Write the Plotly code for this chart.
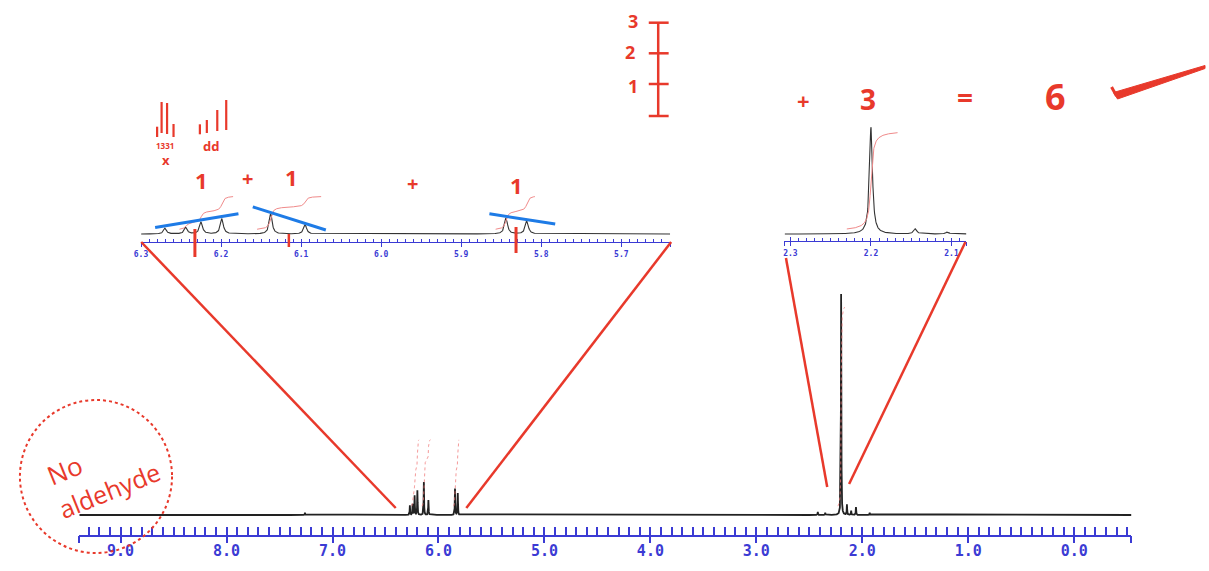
import numpy as np
import plotly.graph_objects as go

W, H = 1209, 571

def px(x):
    return x / W

def py(y):
    return 1 - y / H

# ---------------- data ----------------
peak_ppm = [7.26, 6.270, 6.244, 6.225, 6.199, 6.138, 6.095, 5.844, 5.818,
            2.42, 2.35, 2.200, 2.145, 2.105, 2.06, 1.93]
peak_int = [1.0, 4.3, 4.9, 8.8, 11.2, 14.9, 6.8, 11.9, 9.9,
            1.4, 1.0, 100.0, 4.7, 1.9, 3.6, 1.0]
peak_hwhm = 0.0022

# integral regions (start ppm, end ppm, number of H)
integ_start = [6.252, 6.155, 5.857, 2.230]
integ_end = [6.185, 6.075, 5.808, 2.167]
integ_nh = [1, 1, 1, 3]

main_range = [9.39, -0.54]
main_tickvals = [9.39, 9.0, 8.0, 7.0, 6.0, 5.0, 4.0, 3.0, 2.0, 1.0, 0.0, -0.54]
main_ticktext = ["", "9.0", "8.0", "7.0", "6.0", "5.0", "4.0", "3.0", "2.0", "1.0", "0.0", ""]

ins1_range = [6.3, 5.639]
ins1_tickvals = [6.3, 6.2, 6.1, 6.0, 5.9, 5.8, 5.7, 5.639]
ins1_ticktext = ["6.3", "6.2", "6.1", "6.0", "5.9", "5.8", "5.7", ""]

ins2_range = [2.3074, 2.0815]
ins2_tickvals = [2.3074, 2.3, 2.2, 2.1, 2.0815]
ins2_ticktext = ["", "2.3", "2.2", "2.1", ""]

# ---------------- derived curves ----------------
P = np.array(peak_ppm)
I = np.array(peak_int)


def spectrum(x):
    x = np.asarray(x)[:, None]
    return (I[None, :] * peak_hwhm ** 2 / ((x - P[None, :]) ** 2 + peak_hwhm ** 2)).sum(axis=1)


def integral(a, b, offset, height):
    x = np.linspace(a, b, 600)
    s = spectrum(x)
    c = np.concatenate([[0], np.cumsum((s[1:] + s[:-1]) / 2)])
    c = c / c[-1]
    return x, offset + height * c

BLUE = "#3b3bd4"
RED = "#e8392b"
BLUE2 = "#1e7be6"
PINK = "#f08a8a"
BLACK = "#222222"

fig = go.Figure()

# main spectrum
xm = np.arange(main_range[1], main_range[0], 0.0004)
fig.add_trace(go.Scatter(x=xm, y=spectrum(xm), mode="lines",
                         line=dict(color=BLACK, width=1.8), xaxis="x", yaxis="y",
                         hoverinfo="skip"))
for a, b, nh in zip(integ_start, integ_end, integ_nh):
    xi, yi = integral(a, b, 4, 30 * nh)
    fig.add_trace(go.Scatter(x=xi, y=yi, mode="lines",
                             line=dict(color="rgba(240,120,120,0.75)", width=1, dash="dot"),
                             xaxis="x", yaxis="y", hoverinfo="skip"))

# inset 1
x1 = np.arange(ins1_range[1], ins1_range[0], 0.0004)
fig.add_trace(go.Scatter(x=x1, y=spectrum(x1), mode="lines",
                         line=dict(color="#333333", width=1.1), xaxis="x3", yaxis="y2",
                         hoverinfo="skip"))
for a, b, nh in zip(integ_start[:3], integ_end[:3], integ_nh[:3]):
    xi, yi = integral(a, b, 3.5, 24 * nh)
    fig.add_trace(go.Scatter(x=xi, y=yi, mode="lines",
                             line=dict(color=PINK, width=1), xaxis="x3", yaxis="y2",
                             hoverinfo="skip"))

# inset 2
x2 = np.arange(ins2_range[1], ins2_range[0], 0.0004)
fig.add_trace(go.Scatter(x=x2, y=spectrum(x2), mode="lines",
                         line=dict(color="#333333", width=1.1), xaxis="x5", yaxis="y3",
                         hoverinfo="skip"))
xi, yi = integral(integ_start[3], integ_end[3], 4.7, 30 * integ_nh[3])
fig.add_trace(go.Scatter(x=xi, y=yi, mode="lines",
                         line=dict(color=PINK, width=1), xaxis="x5", yaxis="y3",
                         hoverinfo="skip"))

# invisible traces so the overlay axes are drawn
for xa_name, ya_name, rng in [("x2", "y", main_range), ("x7", "y", main_range),
                              ("x4", "y2", ins1_range), ("x6", "y3", ins2_range)]:
    fig.add_trace(go.Scatter(x=rng, y=[0, 0], mode="markers",
                             marker=dict(opacity=0, size=1), xaxis=xa_name, yaxis=ya_name,
                             hoverinfo="skip"))

tickfont_main = dict(family="DejaVu Sans Mono", size=15, color=BLUE, weight="bold")
tickfont_small = dict(family="DejaVu Sans Mono", size=8, color=BLUE, weight="bold")


def ruler(dom, rng, tv, tt, anchor, up, down, minor_len, minor_dt, font, lw, labels=True):
    a = dict(domain=dom, range=rng, anchor=anchor, tickmode="array", tickvals=tv,
             ticktext=["" for _ in tt], ticks="inside", ticklen=up, tickcolor=BLUE,
             tickwidth=lw, showline=True, linecolor=BLUE, linewidth=lw,
             showgrid=False, zeroline=False, showticklabels=False,
             minor=dict(ticks="inside", ticklen=minor_len, dtick=minor_dt, tick0=0,
                        tickcolor=BLUE, tickwidth=lw, showgrid=False))
    b = dict(domain=dom, range=rng, anchor=anchor, tickmode="array", tickvals=tv,
             ticktext=tt, ticks="outside", ticklen=down, tickcolor=BLUE, tickwidth=lw,
             showline=False, showgrid=False, zeroline=False, showticklabels=labels,
             tickfont=font, side="bottom")
    return a, b

xa, xb = ruler([px(72.7), px(1131)], main_range, main_tickvals, main_ticktext, "y",
               10, 7, 8, 0.1, tickfont_main, 1.6, labels=False)
xb["overlaying"] = "x"
# separate label axis for the main ruler (no tick marks)
xl = dict(domain=[px(72.7), px(1131)], range=main_range, anchor="y", overlaying="x",
          tickmode="array", tickvals=main_tickvals, ticktext=main_ticktext, ticks="",
          showline=False, showgrid=False, zeroline=False, showticklabels=True,
          tickfont=tickfont_main, side="bottom", ticklabelstandoff=5)
x3a, x3b = ruler([px(134.8), px(667)], ins1_range, ins1_tickvals, ins1_ticktext, "y2",
                 4, 4, 3, 0.01, tickfont_small, 1)
x3b["overlaying"] = "x3"
x5a, x5b = ruler([px(782), px(965)], ins2_range, ins2_tickvals, ins2_ticktext, "y3",
                 4, 4, 3, 0.01, tickfont_small, 1)
x5b["overlaying"] = "x5"

yhidden = dict(visible=False, showgrid=False, zeroline=False)

fig.update_layout(
    width=W, height=H, autosize=False,
    margin=dict(l=0, r=0, t=0, b=0),
    paper_bgcolor="white", plot_bgcolor="rgba(0,0,0,0)",
    showlegend=False,
    xaxis=xa, xaxis2=xb, xaxis3=x3a, xaxis4=x3b, xaxis5=x5a, xaxis6=x5b, xaxis7=xl,
    yaxis=dict(domain=[py(535), py(280)], range=[-9.05, 106.3], **yhidden),
    yaxis2=dict(domain=[py(242), py(170)], range=[-5.88, 47.06], **yhidden),
    yaxis3=dict(domain=[py(241), py(110)], range=[-6.54, 115.9], **yhidden),
)

shapes = []


def seg(x0, y0, x1, y1, color=RED, width=2.5):
    shapes.append(dict(type="line", xref="paper", yref="paper",
                       x0=px(x0), y0=py(y0), x1=px(x1), y1=py(y1),
                       line=dict(color=color, width=width)))

# connectors to the insets
seg(135, 242, 391, 508)
seg(668, 242, 462, 508)
seg(783.5, 258, 825, 487)
seg(964, 242, 847, 484)

# marks under inset 1
seg(189, 229, 189, 257, width=3)
seg(283.5, 234, 283.5, 247, width=2.5)
seg(512, 227, 512, 253, width=3)

# blue roofing lines
seg(149, 227.6, 232.8, 213.8, color=BLUE2, width=3)
seg(247.2, 206.9, 320.7, 230, color=BLUE2, width=3)
seg(485.2, 213.8, 551.4, 224.1, color=BLUE2, width=3)

# integral scale bar
seg(655, 22.7, 655, 116, width=2.5)
for yy in [22.7, 53.3, 84, 116]:
    seg(645.5, yy, 665.5, yy, width=2.5)

# multiplet sketches
for xx, y0, y1 in [(151, 126.7, 137), (155.5, 102, 133), (161, 103, 134), (167.5, 124, 137)]:
    seg(xx, y0, xx, y1, width=2.2)
for xx, y0, y1 in [(194, 124.3, 134.3), (201, 120, 133), (211.5, 110, 131), (220.5, 100, 130)]:
    seg(xx, y0, xx, y1, width=2.2)

# tick mark (check)
seg(1111, 87, 1116, 96, width=3)
path = "M {} {} L {} {} L {} {} L {} {} Z".format(
    px(1113), py(92.5), px(1205), py(65.5), px(1205), py(68.5), px(1117), py(99))
shapes.append(dict(type="path", xref="paper", yref="paper", path=path,
                   fillcolor=RED, line=dict(color=RED, width=1)))

# dotted circle
shapes.append(dict(type="circle", xref="paper", yref="paper",
                   x0=px(13), x1=px(166), y0=py(553), y1=py(400),
                   line=dict(color=RED, width=2, dash="dot")))

fig.update_layout(shapes=shapes)

annots = []


def txt(s, x, y, size, angle=0, color=RED, family="Open Sans", weight="bold"):
    annots.append(dict(text=s, x=px(x), y=py(y), xref="paper", yref="paper",
                       showarrow=False, xanchor="center", yanchor="middle",
                       textangle=angle,
                       font=dict(family=family, size=size, color=color, weight=weight)))

txt("1", 196, 180, 22)
txt("+", 242, 178, 20)
txt("1", 286, 177, 22)
txt("+", 408, 183, 20)
txt("1", 512, 185, 22)

txt("3", 630, 21, 18)
txt("2", 627, 52, 18)
txt("1", 630, 86, 18)

txt("+", 801, 100, 22)
txt("3", 866, 99, 28)
txt("=", 964, 97, 28)
txt("6", 1055, 97, 36)

txt("1331", 159, 145, 8)
txt("x", 160, 160, 13)
txt("dd", 205, 146, 13)

txt("No", 58, 470, 26, angle=-22, weight="normal")
txt("aldehyde", 103, 490, 25, angle=-22, weight="normal")

fig.update_layout(annotations=annots)

fig.write_html("out.html", config={"displayModeBar": False},
               post_script="document.body.style.margin='0px';")
